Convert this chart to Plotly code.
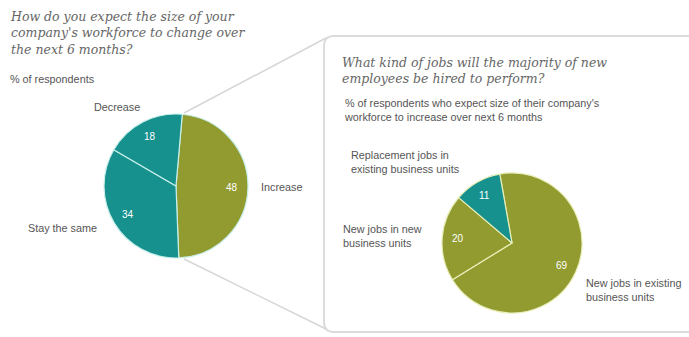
import math
import plotly.graph_objects as go

W, H = 689, 337

# ---- data ----
left_labels = ["Increase", "Stay the same", "Decrease"]
left_values = [48, 34, 18]
right_labels = ["New jobs in existing business units", "New jobs in new business units",
                "Replacement jobs in existing business units"]
right_values = [69, 20, 11]

TEAL = "#16918e"
OLIVE = "#929b30"
GRAY = "#555555"
SERIF = "DejaVu Serif"
SANS = "Liberation Sans"

def px(x):
    return x / W

def py(y):
    return 1 - y / H

# pie geometry (pixels)
L_C, L_R, L_ROT = (176, 186), 72, 5
R_C, R_R, R_ROT = (512, 243), 70, -10

def dom(c, r):
    return dict(x=[px(c[0] - r), px(c[0] + r)], y=[py(c[1] + r), py(c[1] - r)])

fig = go.Figure()
fig.add_trace(go.Pie(labels=left_labels, values=left_values, sort=False, direction="clockwise",
                     rotation=L_ROT, domain=dom(L_C, L_R), textinfo="none", hoverinfo="label+value",
                     marker=dict(colors=[OLIVE, TEAL, TEAL], line=dict(color="#c8efe9", width=1.2)),
                     showlegend=False))
fig.add_trace(go.Pie(labels=right_labels, values=right_values, sort=False, direction="clockwise",
                     rotation=R_ROT, domain=dom(R_C, R_R), textinfo="none", hoverinfo="label+value",
                     marker=dict(colors=[OLIVE, OLIVE, TEAL], line=dict(color="#e8eeb8", width=1.2)),
                     showlegend=False))

ann = []

def value_labels(values, c, r, rot):
    total = sum(values)
    start = rot
    for v in values:
        span = 360 * v / total
        mid = math.radians(start + span / 2)
        x = c[0] + 0.78 * r * math.sin(mid)
        y = c[1] - 0.78 * r * math.cos(mid)
        ann.append(dict(x=px(x), y=py(y), xref="paper", yref="paper", text=str(v), showarrow=False,
                        font=dict(family=SANS, size=10, color="white"), xanchor="center", yanchor="middle"))
        start += span

value_labels(left_values, L_C, L_R, L_ROT)
value_labels(right_values, R_C, R_R, R_ROT)

def text(x, y, t, size, family=SANS, color=GRAY):
    ann.append(dict(x=px(x), y=py(y), xref="paper", yref="paper", text=t, showarrow=False,
                    font=dict(family=family, size=size, color=color), xanchor="left", yanchor="middle",
                    align="left"))

# titles
text(8, 33, "<i>How do you expect the size of your<br>company's workforce to change over<br>the next 6 months?</i>", 12.5, SERIF, "#666")
text(8, 79, "% of respondents", 10.8)
text(340, 70, "<i>What kind of jobs will the majority of new<br>employees be hired to perform?</i>", 12.5, SERIF, "#666")
text(342, 110, "% of respondents who expect size of their company's<br>workforce to increase over next 6 months", 10.8)

# category labels
text(92, 107, "Decrease", 10.8)
text(259, 187, "Increase", 10.8)
text(26, 228, "Stay the same", 10.8)
text(349, 162, "Replacement jobs in<br>existing business units", 10.8)
text(341, 236, "New jobs in new<br>business units", 10.8)
text(584, 290, "New jobs in existing<br>business units", 10.8)

shapes = []
# callout box with rounded left corners
bx0, by0, by1, rr = 324, 36, 332, 10
path = (f"M {px(W + 5)} {py(by0)} L {px(bx0 + rr)} {py(by0)} "
        f"Q {px(bx0)} {py(by0)} {px(bx0)} {py(by0 + rr)} "
        f"L {px(bx0)} {py(by1 - rr)} Q {px(bx0)} {py(by1)} {px(bx0 + rr)} {py(by1)} "
        f"L {px(W + 5)} {py(by1)}")
shapes.append(dict(type="path", xref="paper", yref="paper", path=path,
                   line=dict(color="#dcdcdc", width=2)))
shapes.append(dict(type="line", xref="paper", yref="paper", x0=px(184), y0=py(113), x1=px(bx0 + 2), y1=py(by0 + 2),
                   line=dict(color="#d6d6d6", width=1.5)))
shapes.append(dict(type="line", xref="paper", yref="paper", x0=px(184), y0=py(259), x1=px(bx0 + 2), y1=py(by1 - 3),
                   line=dict(color="#d6d6d6", width=1.5)))

fig.update_layout(width=W, height=H, margin=dict(l=0, r=0, t=0, b=0),
                  paper_bgcolor="white", plot_bgcolor="white",
                  annotations=ann, shapes=shapes)
fig.write_html("out.html")
